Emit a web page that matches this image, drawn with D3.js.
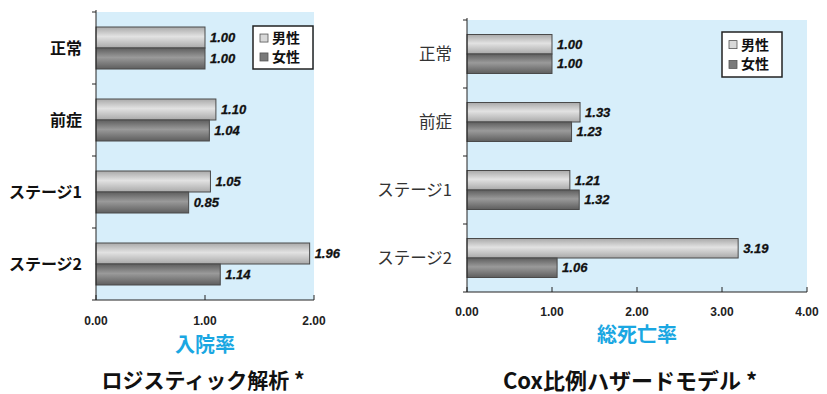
<!DOCTYPE html>
<html><head><meta charset="utf-8">
<script src="https://cdn.jsdelivr.net/npm/d3@7"></script>
<style>body{margin:0;background:#fff}svg{display:block}</style>
</head><body>
<svg id="c" width="827" height="394"></svg>
<script>
const categories = ["正常","前症","ステージ1","ステージ2"];
const series = ["男性","女性"];
const hospMale = [1.00,1.10,1.05,1.96];
const hospFemale = [1.00,1.04,0.85,1.14];
const deathMale = [1.00,1.33,1.21,3.19];
const deathFemale = [1.00,1.23,1.32,1.06];
const hospTicks = [0,1,2];
const deathTicks = [0,1,2,3,4];

const svg = d3.select("#c");
const defs = svg.append("defs");
function grad(id, edge, mid){
  const g = defs.append("linearGradient").attr("id",id).attr("x1",0).attr("y1",0).attr("x2",0).attr("y2",1);
  g.append("stop").attr("offset","0%").attr("stop-color",edge);
  g.append("stop").attr("offset","45%").attr("stop-color",mid);
  g.append("stop").attr("offset","100%").attr("stop-color",edge);
}
grad("gm","#a9a9a9","#e2e2e2");
grad("gf","#5e5e5e","#9a9a9a");

function chart(o){
  const x = d3.scaleLinear().domain(o.domain).range([o.x0,o.x1]);
  const y = d3.scaleBand().domain(categories).range([o.y0,o.y1]);
  const g = svg.append("g");
  g.append("rect").attr("x",o.x0).attr("y",o.y0).attr("width",o.x1-o.x0).attr("height",o.y1-o.y0).attr("fill","#d7eefa");
  const bw = o.barH;
  const off = (y.bandwidth()-2*bw)/2;
  const vals=[o.male,o.female];
  vals.forEach((arr,si)=>{
    g.selectAll(null).data(arr).enter().append("rect")
      .attr("x",x(0)).attr("y",(d,i)=>y(categories[i])+off+si*bw)
      .attr("width",d=>x(d)-x(0)).attr("height",bw)
      .attr("fill",si===0?"url(#gm)":"url(#gf)").attr("stroke","#4a4a4a").attr("stroke-width",1);
    g.selectAll(null).data(arr).enter().append("text")
      .attr("x",d=>x(d)+5).attr("y",(d,i)=>y(categories[i])+off+si*bw+bw/2)
      .attr("dy","0.36em").attr("font-family","Liberation Sans, Arial").attr("font-weight","bold").attr("font-style","italic")
      .attr("font-size",13).attr("fill","#111").attr("stroke","#111").attr("stroke-width",0.3).text(d=>d.toFixed(2));
  });
  g.append("line").attr("x1",o.x0).attr("x2",o.x0).attr("y1",o.y0-2).attr("y2",o.y1).attr("stroke","#222");
  g.selectAll(null).data(d3.range(categories.length+1)).enter().append("line")
    .attr("x1",o.x0-4).attr("x2",o.x0).attr("y1",i=>o.y0+i*y.step()).attr("y2",i=>o.y0+i*y.step()).attr("stroke","#222");
  g.append("line").attr("x1",o.x0).attr("x2",o.x1).attr("y1",o.y1).attr("y2",o.y1).attr("stroke","#222");
  g.selectAll(null).data(o.ticks).enter().append("line")
    .attr("x1",d=>x(d)).attr("x2",d=>x(d)).attr("y1",o.y1).attr("y2",o.y1-5).attr("stroke","#222");
  g.selectAll(null).data(o.ticks).enter().append("text")
    .attr("x",d=>x(d)).attr("y",o.tickY).attr("text-anchor","middle").attr("dy","0.35em")
    .attr("font-family","Liberation Sans Narrow, Liberation Sans, Arial").attr("font-weight","bold").attr("font-size",12)
    .attr("fill","#222").text(d=>d.toFixed(2));
  g.selectAll(null).data(categories).enter().append("text")
    .attr("x",o.x0-o.labGap).attr("y",d=>y(d)+y.bandwidth()/2).attr("dy","0.35em").attr("text-anchor","end")
    .attr("font-family","Noto Sans CJK JP").attr("font-weight",o.labBold?"bold":"normal").attr("font-size",o.labSize)
    .attr("fill",o.labBold?"#111":"#333").text(d=>d);
  const lg = g.append("g");
  lg.append("rect").attr("x",o.lx).attr("y",o.ly).attr("width",60).attr("height",o.lh).attr("fill","#fff").attr("stroke","#222").attr("stroke-width",1.5);
  series.forEach((s,i)=>{
    const cy = o.ly + o.lh*(0.28+0.44*i);
    lg.append("rect").attr("x",o.lx+7).attr("y",cy-4).attr("width",8).attr("height",8)
      .attr("fill",i===0?"#d8d8d8":"#7a7a7a").attr("stroke","#555").attr("stroke-width",0.8);
    lg.append("text").attr("x",o.lx+19).attr("y",cy).attr("dy","0.36em")
      .attr("font-family","Noto Sans CJK JP").attr("font-weight","bold").attr("font-size",14).attr("fill","#111").text(s);
  });
  g.append("text").attr("x",(o.x0+o.x1)/2).attr("y",o.axY).attr("dy","0.35em").attr("text-anchor","middle")
    .attr("font-family","Noto Sans CJK JP").attr("font-weight","bold").attr("font-size",20).attr("fill","#1aa7e2").text(o.axTitle);
  g.append("text").attr("x",o.tx).attr("y",381).attr("dy","0.35em").attr("text-anchor","middle")
    .attr("font-family","Noto Sans CJK JP").attr("font-weight","bold").attr("font-size",o.tSize).attr("fill","#111").text(o.title);
}
chart({domain:[0,2],x0:96,x1:314,y0:12,y1:300,barH:21,male:hospMale,female:hospFemale,ticks:hospTicks,tickY:321,
  labGap:14,labBold:true,labSize:16,lx:253,ly:26,lh:43,axTitle:"入院率",axY:345,title:"ロジスティック解析 *",tx:203,tSize:21});
chart({domain:[0,4],x0:467,x1:807,y0:20,y1:292,barH:19.5,male:deathMale,female:deathFemale,ticks:deathTicks,tickY:312,
  labGap:15,labBold:false,labSize:16.5,lx:722,ly:32,lh:45,axTitle:"総死亡率",axY:335,title:"Cox比例ハザードモデル *",tx:630,tSize:22});
</script>
</body></html>
